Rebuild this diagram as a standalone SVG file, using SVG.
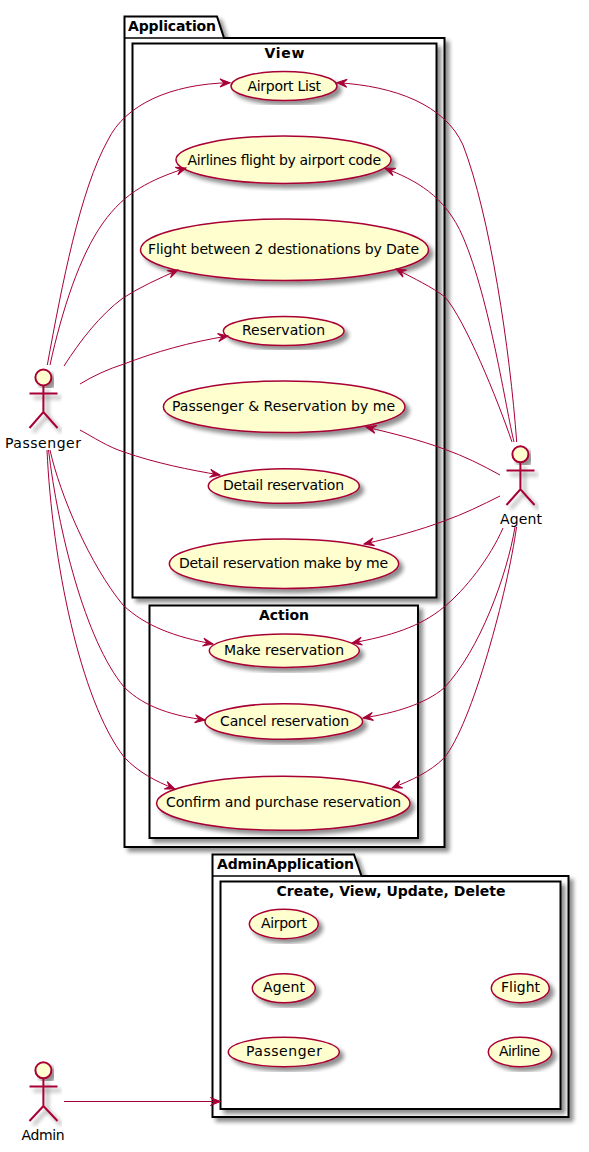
<svg xmlns="http://www.w3.org/2000/svg" width="589" height="1152" viewBox="0 0 589 1152">
<style>
.pk{fill:#fff;stroke:#000;stroke-width:2;filter:url(#sh)}
.uc{fill:#FEFECE;stroke:#A80036;stroke-width:1.500;filter:url(#sh)}
.hd{fill:#FEFECE;stroke:#A80036;stroke-width:2;filter:url(#sh)}
.ln{fill:none;stroke:#A80036;stroke-width:2;filter:url(#sh)}
.c{fill:none;stroke:#A80036;stroke-width:1;marker-end:url(#a)}
.ah{fill:#A80036;stroke:#A80036;stroke-width:1}
.tb{fill:none;stroke:#000;stroke-width:1.500}
text{font-family:"DejaVu Sans",sans-serif;font-size:14px;fill:#000;text-anchor:start}
.b{font-weight:bold}
</style>
<defs>
<filter id="sh" x="-10%" y="-10%" width="125%" height="125%"><feGaussianBlur in="SourceAlpha" stdDeviation="2"/><feOffset dx="4" dy="4"/><feComponentTransfer><feFuncA type="linear" slope="0.45"/></feComponentTransfer><feMerge><feMergeNode/><feMergeNode in="SourceGraphic"/></feMerge></filter>
<marker id="a" markerUnits="userSpaceOnUse" markerWidth="12" markerHeight="12" refX="10" refY="5" viewBox="0 0 12 10" orient="auto" overflow="visible"><path class="ah" d="M10,5 L0,1 L4,5 L0,9 Z"/></marker>
</defs>
<g id="pkg-application">
<path class="pk" d="M124.500,38 V16.500 H217 L224,38 H444.500 V847 H124.500 Z"/>
<path class="tb" d="M124.500,38 H224"/>
<text class="b" x="128" y="31" textLength="88">Application</text>
</g>
<g id="rect-view"><rect class="pk" x="132.500" y="43.500" width="304" height="554"/><text class="b" x="264.500" y="58" textLength="40">View</text></g>
<g id="rect-action"><rect class="pk" x="149.500" y="605.500" width="268.500" height="232.500"/><text class="b" x="259" y="620" textLength="50">Action</text></g>
<g id="pkg-admin">
<path class="pk" d="M212.500,876 V854.500 H354 L361.500,876 H568.500 V1117 H212.500 Z"/>
<path class="tb" d="M212.500,876 H361.500"/>
<text class="b" x="217" y="869" textLength="137">AdminApplication</text>
</g>
<g id="rect-crud"><rect class="pk" x="220.500" y="881.500" width="340" height="227.500"/><text class="b" x="276.500" y="896" textLength="229">Create, View, Update, Delete</text></g>
<g id="uc-airport-list"><ellipse class="uc" cx="284" cy="86" rx="53" ry="14.500"/><text x="247.500" y="90.500" textLength="73.500">Airport List</text></g>
<g id="uc-airlines"><ellipse class="uc" cx="283.500" cy="159.700" rx="107.500" ry="23.700"/><text x="187.500" y="164.500" textLength="193.500">Airlines flight by airport code</text></g>
<g id="uc-flight-between"><ellipse class="uc" cx="284.500" cy="249.800" rx="144" ry="30.800"/><text x="148" y="254" textLength="271">Flight between 2 destionations by Date</text></g>
<g id="uc-reservation"><ellipse class="uc" cx="283.700" cy="331" rx="60.300" ry="14.500"/><text x="242" y="335" textLength="83">Reservation</text></g>
<g id="uc-pass-res-me"><ellipse class="uc" cx="284.200" cy="406.800" rx="120.800" ry="25.800"/><text x="172" y="411" textLength="223">Passenger &amp; Reservation by me</text></g>
<g id="uc-detail"><ellipse class="uc" cx="283.800" cy="486" rx="75.500" ry="17.300"/><text x="223" y="490" textLength="121">Detail reservation</text></g>
<g id="uc-detail-me"><ellipse class="uc" cx="284" cy="563.700" rx="114.700" ry="24.700"/><text x="179" y="568" textLength="209">Detail reservation make by me</text></g>
<g id="uc-make"><ellipse class="uc" cx="284.300" cy="650.700" rx="75" ry="16.700"/><text x="224" y="655" textLength="120">Make reservation</text></g>
<g id="uc-cancel"><ellipse class="uc" cx="283.800" cy="721.500" rx="78.800" ry="17.800"/><text x="220" y="726" textLength="129">Cancel reservation</text></g>
<g id="uc-confirm"><ellipse class="uc" cx="283.300" cy="803.300" rx="126.700" ry="27"/><text x="166" y="807" textLength="235">Confirm and purchase reservation</text></g>
<g id="uc-airport"><ellipse class="uc" cx="283.800" cy="924" rx="34.500" ry="14.700"/><text x="261" y="928" textLength="46">Airport</text></g>
<g id="uc-agent"><ellipse class="uc" cx="283.800" cy="988.200" rx="31.500" ry="14.500"/><text x="263" y="992" textLength="42">Agent</text></g>
<g id="uc-passenger"><ellipse class="uc" cx="283.800" cy="1052" rx="55.500" ry="14.700"/><text x="246" y="1056" textLength="76">Passenger</text></g>
<g id="uc-flight"><ellipse class="uc" cx="520.300" cy="988.200" rx="29" ry="14.500"/><text x="501" y="992" textLength="39">Flight</text></g>
<g id="uc-airline"><ellipse class="uc" cx="520" cy="1052" rx="31.700" ry="14.700"/><text x="499" y="1056" textLength="41">Airline</text></g>
<g id="connectors">
<path class="c" d="M47.300,365 C62,285 80,190 108,140 C125,105 170,84 230,82.700"/>
<path class="c" d="M50,365 C62,310 80,255 103,223 C125,192 150,180 186,168"/>
<path class="c" d="M64,366 C80,341 100,315 123,298 C140,287 158,279 178,270"/>
<path class="c" d="M80,384 C93,376 108,369 124,364 C155,352 190,342 228,336"/>
<path class="c" d="M80,430 C93,437 108,447 124,452 C155,463 190,470 220,475"/>
<path class="c" d="M50,450 C60,495 90,565 123,605 C145,626 175,637 213,644"/>
<path class="c" d="M48.500,450 C58,530 85,640 124,687 C145,708 175,716 205,720"/>
<path class="c" d="M47,450 C52,560 80,700 124,757 C138,772 155,781 175,789"/>
<path class="c" d="M516.700,442 C510,350 490,215 463,145 C445,105 395,86 337,82.700"/>
<path class="c" d="M514,442 C506,410 490,300 463,237 C445,195 415,180 385,168.300"/>
<path class="c" d="M512,442 C497,398 465,320 445,297 C432,287 415,279 396,269"/>
<path class="c" d="M500,475 C482,465 464,456 444,449 C420,440 395,434 366,427"/>
<path class="c" d="M500,496 C482,505 464,514 444,521 C420,530 395,537 364,544"/>
<path class="c" d="M503,528 C490,558 465,590 444,607 C420,627 390,636 352,643"/>
<path class="c" d="M515,527 C507,575 480,650 444,688 C425,704 395,713 363,718"/>
<path class="c" d="M516.500,527 C508,590 472,725 444,758 C430,772 412,780 392,788"/>
<path class="c" d="M64,1101.500 H220.500"/>
</g>
<g id="actor-passenger"><circle class="hd" cx="43.400" cy="377.500" r="8"/><path class="ln" d="M43.400,385.500 V412 M29.500,393.500 H57.500 M29.500,428 L43.400,412 L57.500,428"/><text x="5" y="447.500" textLength="76">Passenger</text></g>
<g id="actor-agent"><circle class="hd" cx="520.400" cy="454.300" r="8"/><path class="ln" d="M520.400,462.300 V489.300 M506.500,470.500 H534.500 M506.500,505 L520.400,489.300 L534.500,505"/><text x="500" y="524" textLength="42">Agent</text></g>
<g id="actor-admin"><circle class="hd" cx="43.400" cy="1070.300" r="8"/><path class="ln" d="M43.400,1078.300 V1106 M29.500,1086.500 H57.500 M29.500,1121 L43.400,1106 L57.500,1121"/><text x="21.500" y="1140" textLength="43">Admin</text></g>
</svg>
